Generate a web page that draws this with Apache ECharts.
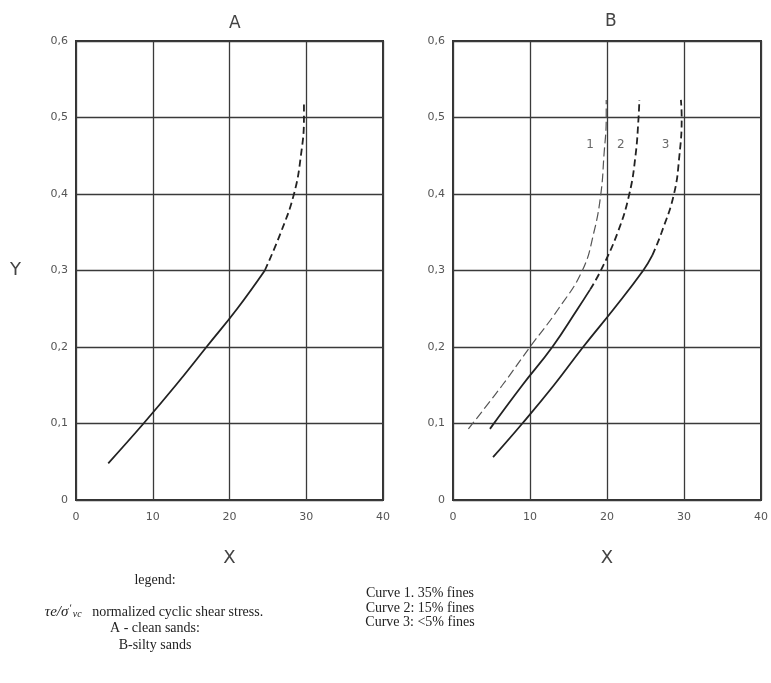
<!DOCTYPE html>
<html>
<head>
<meta charset="utf-8">
<script src="https://cdn.jsdelivr.net/npm/echarts@6/dist/echarts.min.js"></script>
<style>
  html, body { margin: 0; padding: 0; background: #fff; }
  #chart { width: 771px; height: 683px; }
</style>
</head>
<body>
<div id="chart"></div>
<script>
// Axis ticks
const xTicks = [0, 10, 20, 30, 40];
const yTicks = [0, 0.1, 0.2, 0.3, 0.4, 0.5, 0.6];

// Panel A: clean sands (solid below dashFrom, dashed above)
const curveA = [[4.2, 0.048], [8.8, 0.1], [13.0, 0.15], [17.0, 0.2], [21.0, 0.25],
  [24.6, 0.3], [26.7, 0.35], [28.4, 0.4], [29.3, 0.45], [29.7, 0.5], [29.7, 0.52]];
const curveADashFrom = 0.3;

// Panel B: silty sands
const curve1 = [[2.0, 0.093], [6.4, 0.15], [10, 0.2], [13.7, 0.25], [16.8, 0.3],
  [18.3, 0.35], [19.2, 0.4], [19.6, 0.45], [19.9, 0.5], [19.9, 0.523]];
const curve1DashFrom = 0;
const curve2 = [[4.8, 0.093], [9.0, 0.15], [12.9, 0.2], [16.2, 0.25], [17.8, 0.275], [19.2, 0.3],
  [21.4, 0.35], [22.9, 0.4], [23.7, 0.45], [24.1, 0.5], [24.2, 0.523]];
const curve2DashFrom = 0.275;
const curve3 = [[5.2, 0.056], [9.0, 0.1], [13.1, 0.15], [16.9, 0.2], [20.9, 0.25], [24.7, 0.3],
  [25.9, 0.32], [27.1, 0.35], [28.7, 0.4], [29.4, 0.45], [29.7, 0.5], [29.6, 0.523]];
const curve3DashFrom = 0.32;

// Curve number labels in panel B
const curveLabels = ['1', '2', '3'];
const curveLabelPos = [[17.8, 0.464], [21.8, 0.464], [27.6, 0.464]];

const tickFont = 'DejaVu Sans';
const serif = 'Liberation Serif';

function splitCurve(points, dashFrom) {
  const solid = points.filter(p => p[1] <= dashFrom);
  const dashed = points.filter(p => p[1] >= dashFrom);
  return { solid, dashed };
}

function curveSeries(points, dashFrom, idx, style) {
  const parts = splitCurve(points, dashFrom);
  const out = [];
  const base = { type: 'line', xAxisIndex: idx, yAxisIndex: idx, smooth: 0.45,
    symbol: 'none', silent: true };
  if (parts.solid.length > 1) {
    out.push(Object.assign({}, base, {
      data: parts.solid,
      lineStyle: { color: style.color, width: style.width, type: 'solid' }
    }));
  }
  if (parts.dashed.length > 1) {
    out.push(Object.assign({}, base, {
      data: parts.dashed,
      lineStyle: { color: style.color, width: style.width, type: style.dash }
    }));
  }
  return out;
}

function xAxis(idx) {
  return {
    type: 'value', gridIndex: idx, min: xTicks[0], max: xTicks[xTicks.length - 1], interval: 10,
    name: 'X', nameLocation: 'middle', nameGap: 49,
    nameTextStyle: { fontFamily: tickFont, fontSize: 18, color: '#444' },
    axisLine: { show: false }, axisTick: { show: false },
    axisLabel: { margin: 12, fontFamily: tickFont, fontSize: 11, color: '#555' },
    splitLine: { show: true, lineStyle: { color: '#3a3a3a', width: 1.3 } }
  };
}

function yAxis(idx, withName) {
  return {
    type: 'value', gridIndex: idx, min: yTicks[0], max: yTicks[yTicks.length - 1], interval: 0.1,
    name: withName ? 'Y' : '', nameLocation: 'middle', nameGap: 55, nameRotate: 0,
    nameTextStyle: { fontFamily: tickFont, fontSize: 18, color: '#444' },
    axisLine: { show: false }, axisTick: { show: false },
    axisLabel: {
      margin: 8, fontFamily: tickFont, fontSize: 11, color: '#555',
      formatter: v => v === 0 ? '0' : v.toFixed(1).replace('.', ',')
    },
    splitLine: { show: true, lineStyle: { color: '#3a3a3a', width: 1.3 } }
  };
}

const mainStyle = { color: '#222', width: 1.8, dash: [7, 4] };
const lightStyle = { color: '#555', width: 1.2, dash: [9, 4] };

const series = [].concat(
  curveSeries(curveA, curveADashFrom, 0, mainStyle),
  curveSeries(curve1, curve1DashFrom, 1, lightStyle),
  curveSeries(curve2, curve2DashFrom, 1, mainStyle),
  curveSeries(curve3, curve3DashFrom, 1, mainStyle),
  [{
    type: 'scatter', xAxisIndex: 1, yAxisIndex: 1, silent: true,
    symbolSize: 1, itemStyle: { color: 'rgba(0,0,0,0)' },
    data: curveLabelPos.map((p, i) => ({ value: p, name: curveLabels[i] })),
    label: {
      show: true, position: 'inside', formatter: d => d.name,
      fontFamily: tickFont, fontSize: 12, color: '#444'
    }
  }]
);

function caption(text, x, y) {
  return { type: 'text', x: x, y: y, style: { text: text, font: '14px "' + serif + '"',
    fill: '#222', textAlign: 'center', textVerticalAlign: 'middle' } };
}

const chart = echarts.init(document.getElementById('chart'), null, { renderer: 'canvas' });
chart.setOption({
  backgroundColor: '#fff',
  animation: false,
  title: [
    { text: 'A', left: 224, top: 10, textStyle: { fontFamily: tickFont, fontSize: 17, fontWeight: 'normal', color: '#444' } },
    { text: 'B', left: 600, top: 8, textStyle: { fontFamily: tickFont, fontSize: 17, fontWeight: 'normal', color: '#444' } }
  ],
  grid: [
    { left: 76, top: 41, width: 307, height: 459, show: true, borderColor: '#333', borderWidth: 2, backgroundColor: 'transparent' },
    { left: 453, top: 41, width: 309, height: 459, show: true, borderColor: '#333', borderWidth: 2, backgroundColor: 'transparent' }
  ],
  xAxis: [xAxis(0), xAxis(1)],
  yAxis: [yAxis(0, true), yAxis(1, false)],
  series: series,
  graphic: [
    caption('legend:', 155, 580),
    {
      type: 'text', x: 154, y: 612,
      style: {
        text: '{sym|τe/σ}{sup|ʹ}{sub|vc}   normalized cyclic shear stress.',
        textAlign: 'center', textVerticalAlign: 'middle', fill: '#222',
        font: '14px "' + serif + '"',
        rich: {
          sym: { fontFamily: serif, fontStyle: 'italic', fontSize: 15, fill: '#222' },
          sup: { fontFamily: serif, fontSize: 11, fill: '#222', padding: [0, 1, 8, 1] },
          sub: { fontFamily: serif, fontStyle: 'italic', fontSize: 10, fill: '#222', padding: [5, 0, 0, 0] }
        }
      }
    },
    caption('A - clean sands:', 155, 628),
    caption('B-silty sands', 155, 645),
    caption('Curve 1. 35% fines', 420, 593),
    caption('Curve 2: 15% fines', 420, 608),
    caption('Curve 3: <5% fines', 420, 622)
  ]
});
</script>
</body>
</html>
